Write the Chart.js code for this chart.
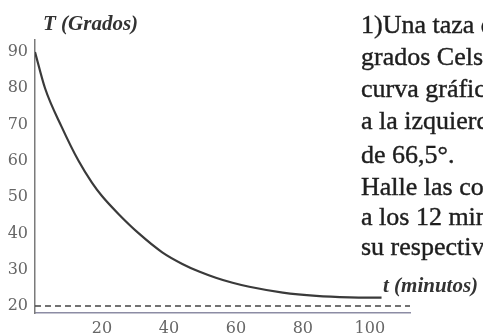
<!DOCTYPE html>
<html>
<head>
<meta charset="utf-8">
<script src="https://cdn.jsdelivr.net/npm/chart.js@4.4.1/dist/chart.umd.min.js"></script>
<style>
  html, body { margin: 0; padding: 0; background: #fff; }
  #wrap { width: 483px; height: 336px; }
</style>
</head>
<body>
<div id="wrap"><canvas id="coolingChart" width="483" height="336"></canvas></div>
<script>
// cooling curve: time in minutes vs temperature in degrees
const minutes = [0, 3, 8, 13, 17, 20, 25, 31, 38, 44, 49, 54, 59, 64, 74, 84, 94, 103.5];
const temps   = [90, 80.0, 69.3, 60.0, 54.0, 50.3, 45.3, 40.0, 34.8, 31.6, 29.5, 27.8, 26.4, 25.3, 23.7, 22.8, 22.4, 22.3];

// room temperature the coffee approaches
const ambientTemp = 20;
const ambientSpan = [0, 112];

const yTicks = [20, 30, 40, 50, 60, 70, 80, 90];
const xTicks = [20, 40, 60, 80, 100];

const yTitle = 'T (Grados)';
const xTitle = 't (minutos)';

// problem statement printed beside the graph
const problemLines = [
    '1)Una taza de café',
    'grados Celsius',
    'curva gráfica',
    'a la izquierda',
    'de 66,5°.',
    'Halle las coordenadas',
    'a los 12 minutos',
    'su respectiva'
];

const curvePoints = minutes.map((t, i) => ({ x: t, y: temps[i] }));
const ambientPoints = ambientSpan.map(t => ({ x: t, y: ambientTemp }));

const tickFont = { family: 'DejaVu Serif', size: 16 };

// draws the axis captions and the exercise text
const textPlugin = {
    id: 'pageText',
    afterDraw(chart) {
        const ctx = chart.ctx;
        ctx.save();
        ctx.fillStyle = '#333';
        ctx.textAlign = 'left';
        ctx.textBaseline = 'alphabetic';
        ctx.font = 'italic bold 21px "Liberation Serif"';
        ctx.fillText(yTitle, 43, 30);
        ctx.fillText(xTitle, 383, 292);

        ctx.fillStyle = '#1e1e1e';
        ctx.strokeStyle = '#1e1e1e';
        ctx.lineWidth = 0.4;
        ctx.font = '26px "Liberation Serif"';
        const baselines = [33, 65, 97, 129, 163, 195, 225, 255];
        problemLines.forEach((line, i) => {
            ctx.fillText(line, 361, baselines[i]);
            ctx.strokeText(line, 361, baselines[i]);
        });
        ctx.restore();
    }
};

new Chart(document.getElementById('coolingChart').getContext('2d'), {
    type: 'scatter',
    data: {
        datasets: [{
            data: curvePoints,
            showLine: true,
            borderColor: '#3a3a3a',
            borderWidth: 2.2,
            pointRadius: 0,
            cubicInterpolationMode: 'monotone'
        }, {
            data: ambientPoints,
            showLine: true,
            borderColor: '#444',
            borderWidth: 1.5,
            borderDash: [6, 4],
            pointRadius: 0
        }]
    },
    options: {
        responsive: false,
        animation: false,
        devicePixelRatio: 1,
        layout: { padding: { top: 40, right: 73, bottom: 0, left: 0 } },
        plugins: {
            legend: { display: false },
            tooltip: { enabled: false }
        },
        scales: {
            x: {
                type: 'linear',
                min: 0,
                max: 112,
                afterFit: s => { s.height = 23; },
                afterBuildTicks: s => { s.ticks = xTicks.map(v => ({ value: v })); },
                grid: { display: false, drawTicks: false },
                border: { color: '#8c8ca4', width: 1.5 },
                ticks: { font: tickFont, color: '#666', padding: 6, maxRotation: 0 }
            },
            y: {
                type: 'linear',
                min: 18.07,
                max: 93.3,
                afterFit: s => { s.width = 35; },
                afterBuildTicks: s => { s.ticks = yTicks.map(v => ({ value: v })); },
                grid: { display: false, drawTicks: false },
                border: { color: '#7a7a7a', width: 1.5 },
                ticks: { font: tickFont, color: '#666', padding: 7 }
            }
        }
    },
    plugins: [textPlugin]
});
</script>
</body>
</html>
